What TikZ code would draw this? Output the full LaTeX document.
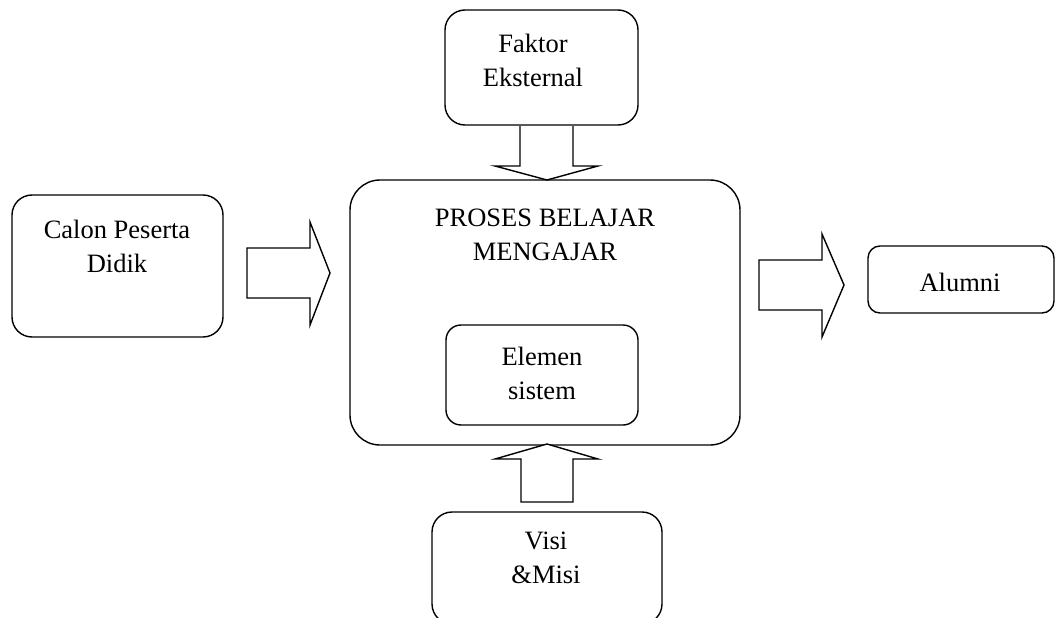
\documentclass[tikz,border=0pt]{standalone}
\usepackage{fontspec}
\setmainfont{Liberation Serif}
\usetikzlibrary{calc}
\begin{document}
\begin{tikzpicture}[x=1pt,y=-1pt,
  line width=1.4pt,
  box/.style={draw, rounded corners=#1, inner sep=0pt},
  box/.default=20pt,
  txt/.style={align=center, font=\fontsize{26.5}{34}\selectfont, inner sep=0pt},
  blockarrow/.style={draw, line join=miter, fill=white}]
\useasboundingbox (0,0) rectangle (1055,618);
% boxes
\node[box=20pt, minimum width=193pt, minimum height=115pt] (faktor) at (541.5,67.5) {};
\node[box=30pt, minimum width=390pt, minimum height=265pt] (main) at (545,312.5) {};
\node[box=15pt, minimum width=192pt, minimum height=100pt] (elemen) at (542,375) {};
\node[box=20pt, minimum width=211pt, minimum height=142pt] (calon) at (117.5,266) {};
\node[box=12pt, minimum width=186pt, minimum height=67pt] (alumni) at (961,279.5) {};
\node[box=20pt, minimum width=230pt, minimum height=112pt] (visi) at (547,568) {};
% texts
\node[txt] (tfaktor) at (533,60) {Faktor\\Eksternal};
\node[txt] (tmain) at (545,234.5) {PROSES BELAJAR\\MENGAJAR};
\node[txt] (telemen) at (542,373.5) {Elemen\\sistem};
\node[txt] (tcalon) at (117,246.5) {Calon Peserta\\Didik};
\node[txt] (talumni) at (960,282) {Alumni};
\node[txt] (tvisi) at (546,558) {Visi\\\&Misi};
% block arrows
\coordinate (dtip) at (547,180);
\draw[blockarrow] (520,126) -- (520,166) -- (495,166) -- (dtip) -- (598,166) -- (573,166) -- (573,126);
\coordinate (utip) at (547,444);
\draw[blockarrow] (521,502) -- (521,459) -- (495,459) -- (utip) -- (598,459) -- (573,459) -- (573,502) -- cycle;
\coordinate (ltip) at (330,273);
\draw[blockarrow] (247,248) -- (310,248) -- (310,222) -- (ltip) -- (310,325) -- (310,298) -- (247,298) -- cycle;
\coordinate (rtip) at (844,285);
\draw[blockarrow] (759,260) -- (822,260) -- (822,234) -- (rtip) -- (822,337) -- (822,310) -- (759,310) -- cycle;
\end{tikzpicture}
\end{document}
